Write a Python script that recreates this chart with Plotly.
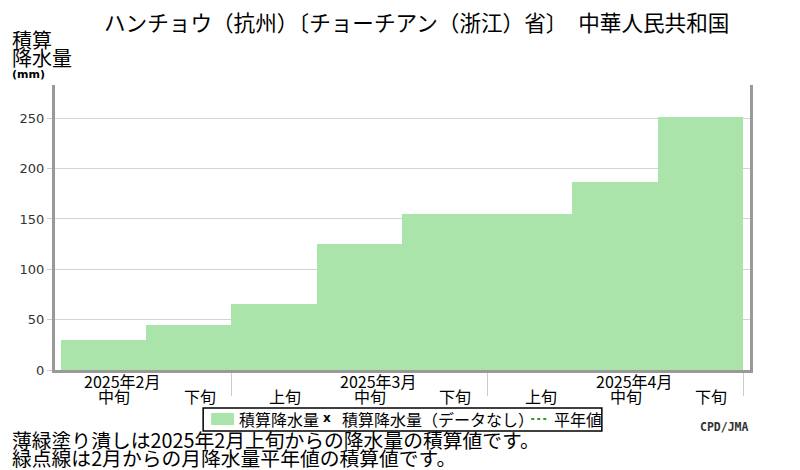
import plotly.graph_objects as go

# cumulative precipitation (mm) per dekad, from 2025 Feb mid-dekad
dekads = ['中旬', '下旬', '上旬', '中旬', '下旬', '上旬', '中旬', '下旬']
cumulative = [30.0, 45.0, 66.0, 125.5, 154.5, 154.5, 186.5, 251.0]
months = ['2025年2月', '2025年3月', '2025年4月']
month_pos = [0, 3, 6]          # dekad index where the month label sits
month_bounds = [1.5, 4.5, 7.5]  # separators between months
yticks = [0, 50, 100, 150, 200, 250]

# the page puts the figure 8px in from the top-left corner,
# so the figure is sized to end at the window edge
PAD = 8
W, H = 800 - PAD, 470 - PAD
L, R, T, B = 51 - PAD, 50, 85 - PAD, 100
X0, X1, Y0, Y1 = 51, 750, 85, 370   # plot area in window pixels
JP = 'Noto Sans CJK JP'


def px(x):
    return (max(x, PAD) - X0) / (X1 - X0)


def py(y):
    return (Y1 - max(y, PAD)) / (Y1 - Y0)


fig = go.Figure()
fig.add_trace(go.Bar(
    x=list(range(len(cumulative))), y=cumulative, width=1,
    marker=dict(color='#abe4ab', line=dict(width=0)),
    showlegend=False, hoverinfo='skip'))

ann = []


def text(x, y, s, size, xanchor='left', font=JP, color='black', **kw):
    ann.append(dict(x=px(x), y=py(y), xref='paper', yref='paper', text=s,
                    showarrow=False, xanchor=xanchor, yanchor='middle',
                    borderpad=0, borderwidth=0,
                    font=dict(family=font, size=size, color=color), **kw))


# title and axis title
text(100, 22, 'ハンチョウ（抗州）〔チョーチアン（浙江）省〕　中華人民共和国', 21.6)
text(0, 40, '積算', 20)
text(0, 58, '降水量', 20)
text(0, 74, '<b>(mm)</b>', 11, font='DejaVu Sans')

# dekad and month labels under the axis
for i, d in enumerate(dekads):
    ann.append(dict(x=i, y=py(396), xref='x', yref='paper', text=d,
                    showarrow=False, xshift=11, yanchor='middle',
                    font=dict(family=JP, size=16, color='black')))
for m, p in zip(months, month_pos):
    ann.append(dict(x=p, y=py(381), xref='x', yref='paper', text=m,
                    showarrow=False, xshift=19, yanchor='middle',
                    font=dict(family=JP, size=16, color='black')))

# legend built by hand
shapes = [
    dict(type='rect', xref='paper', yref='paper', x0=px(200), x1=px(601),
         y0=py(408), y1=py(431), line=dict(color='black', width=1.5)),
    dict(type='rect', xref='paper', yref='paper', x0=px(208), x1=px(231),
         y0=py(413), y1=py(425), fillcolor='#abe4ab', line=dict(width=0)),
    dict(type='line', xref='paper', yref='paper', x0=px(530), x1=px(547),
         y0=py(419), y1=py(419), line=dict(color='#2a9a2a', width=2, dash='dot')),
]
text(236, 419, '積算降水量', 16)
text(321, 418, '<b>x</b>', 12, font='DejaVu Sans')
text(340, 419, '積算降水量（データなし）', 16)
text(553, 419, '平年値', 16)
text(700, 427, '<b>CPD/JMA</b>', 11.5, font='DejaVu Sans Mono', color='#333')

# notes
text(4, 440, '薄緑塗り潰しは2025年2月上旬からの降水量の積算値です。', 19.8)
text(4, 457, '緑点線は2月からの月降水量平年値の積算値です。', 19.8)

fig.update_layout(
    width=W, height=H,
    margin=dict(l=L, r=R, t=T, b=B),
    paper_bgcolor='white', plot_bgcolor='white',
    bargap=0, showlegend=False,
    annotations=ann, shapes=shapes,
    xaxis=dict(range=[-0.566, 7.582], showgrid=False, zeroline=False,
               showline=True, linecolor='#999', linewidth=3,
               tickvals=month_bounds, ticks='outside', ticklen=23,
               tickcolor='#ccc', tickwidth=1, showticklabels=False),
    yaxis=dict(range=[0, 283], tickvals=yticks, showgrid=True,
               gridcolor='#d3d3d3', gridwidth=1, zeroline=False,
               showline=True, mirror=True, linecolor='#999', linewidth=3,
               ticks='outside', ticklen=5, tickcolor='#ccc',
               tickfont=dict(family='DejaVu Sans', size=13, color='#333'),
               layer='below traces'),
)

fig.write_html("out.html")
